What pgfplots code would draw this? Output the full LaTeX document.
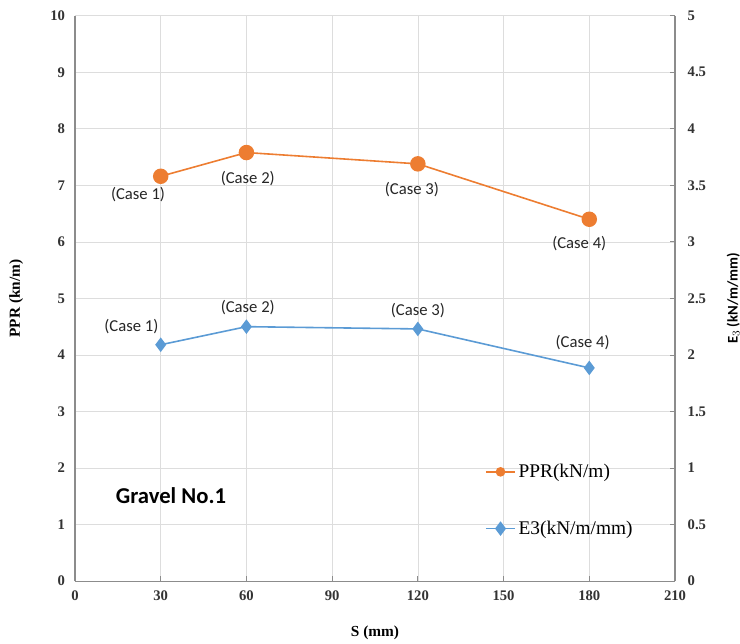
\documentclass[border=0pt]{standalone}
\usepackage{pgfplots}
\pgfplotsset{compat=1.18}
\usepackage{fontspec}
\setmainfont{Liberation Serif}
\newfontfamily\carlito{Carlito}
\definecolor{cOrange}{HTML}{ED7D31}
\definecolor{cBlue}{HTML}{5B9BD5}
\definecolor{cGrid}{HTML}{DDDDDD}
\definecolor{cAxis}{HTML}{8C8C8C}
\begin{document}
\begin{tikzpicture}
\pgfplotsset{
  common/.style={
    scale only axis, width=450pt, height=424pt,
    xmin=0, xmax=210, xtick={0,30,...,210},
    /pgf/number format/assume math mode=true,
    ticklabel style={font=\fontsize{11}{13}\selectfont\bfseries, text=black!80},
    major tick length=4pt,
    tick style={cAxis, line width=0.6pt},
    axis line style={cAxis, line width=0.8pt},
  }
}
\begin{axis}[common, name=ax,
  ymin=0, ymax=10, ytick={0,1,...,10},
  axis x line*=bottom, axis y line*=left,
  grid=major, major grid style={cGrid, line width=0.5pt},
  ytick style={draw=none},
  xtick align=inside,
  xlabel={S (mm)}, ylabel={PPR (kn/m)},
  xlabel style={at={(axis description cs:0.5,-0.092)}, anchor=center, font=\fontsize{11.5}{13}\selectfont\bfseries},
  ylabel style={at={(axis description cs:-0.098,0.5)}, anchor=center, rotate=0, font=\fontsize{11.5}{13}\selectfont\bfseries},
  yticklabel style={xshift=-4pt},
  xticklabel style={yshift=-4pt},
]
\draw[cGrid, line width=0.5pt] (axis cs:0,10) -- (axis cs:210,10);
\addplot[cOrange, line width=1.2pt, mark=*, mark size=5.2pt, mark options={solid, fill=cOrange, draw=cOrange}]
  coordinates {(30,7.16) (60,7.58) (120,7.38) (180,6.40)};
\node[font=\carlito\fontsize{12.5}{14}\selectfont, text=black!85] at (axis cs:30,7.16) [xshift=-17pt, yshift=-13.5pt] {(Case 1)};
\node[font=\carlito\fontsize{12.5}{14}\selectfont, text=black!85] at (axis cs:60,7.58) [xshift=1pt, yshift=-19.5pt] {(Case 2)};
\node[font=\carlito\fontsize{12.5}{14}\selectfont, text=black!85] at (axis cs:120,7.38) [xshift=-4.5pt, yshift=-19pt] {(Case 3)};
\node[font=\carlito\fontsize{12.5}{14}\selectfont, text=black!85] at (axis cs:180,6.40) [xshift=-7.5pt, yshift=-18pt] {(Case 4)};
\node[font=\carlito\fontsize{17}{19}\selectfont\bfseries] at (axis cs:33.6,1.52) {Gravel No.1};
\end{axis}
\begin{axis}[common,
  ymin=0, ymax=5, ytick={0,0.5,...,5},
  axis x line=none, axis y line*=right,
  ytick align=inside,
  yticklabel style={xshift=6pt},
  ylabel={E$_3$ (kN/m/mm)},
  ylabel style={at={(axis description cs:1.097,0.5)}, anchor=center, rotate=0, font=\carlito\fontsize{11}{12}\selectfont\bfseries},
  legend style={at={(rel axis cs:0.683,0.212)}, anchor=north west, draw=none, fill=none,
    font=\fontsize{14.5}{16}\selectfont, row sep=27pt, inner sep=0pt,
    /tikz/every even column/.append style={column sep=3pt}},
  legend cell align=left,
  legend image code/.code={\draw[mark repeat=2, mark phase=2, #1] plot coordinates {(0pt,0pt) (11pt,0pt) (22pt,0pt)};},
]
\addlegendimage{cOrange, line width=1.2pt, mark=*, mark size=3pt, mark options={solid, fill=cOrange, draw=cOrange}}
\addlegendentry{PPR(kN/m)}
\addplot[cBlue, line width=1.2pt, mark=diamond*, mark size=4.5pt, mark options={solid, fill=cBlue, draw=cBlue}]
  coordinates {(30,2.09) (60,2.25) (120,2.23) (180,1.885)};
\addlegendentry{E3(kN/m/mm)}
\node[font=\carlito\fontsize{12.5}{14}\selectfont, text=black!85] at (axis cs:30,2.09) [xshift=-22pt, yshift=14pt] {(Case 1)};
\node[font=\carlito\fontsize{12.5}{14}\selectfont, text=black!85] at (axis cs:60,2.25) [xshift=1pt, yshift=14pt] {(Case 2)};
\node[font=\carlito\fontsize{12.5}{14}\selectfont, text=black!85] at (axis cs:120,2.23) [xshift=0pt, yshift=13.5pt] {(Case 3)};
\node[font=\carlito\fontsize{12.5}{14}\selectfont, text=black!85] at (axis cs:180,1.885) [xshift=-5pt, yshift=19pt] {(Case 4)};
\end{axis}
\pgfresetboundingbox
\path[use as bounding box] ([xshift=-56.25pt,yshift=-46.7pt]ax.south west) rectangle ([xshift=48.75pt,yshift=11.8pt]ax.north east);
\end{tikzpicture}
\end{document}
